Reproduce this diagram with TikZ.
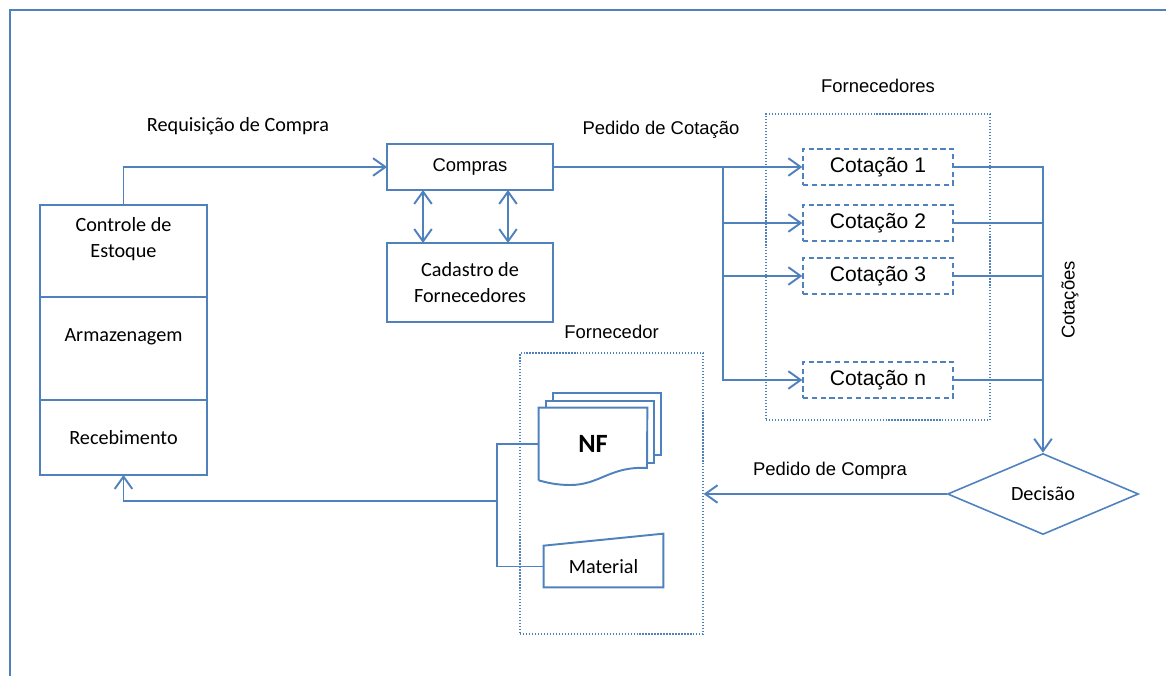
\documentclass[tikz,border=0pt]{standalone}
\usepackage{fontspec}
\setmainfont{Carlito}
\newfontfamily\arialfont{Liberation Sans}
\usetikzlibrary{positioning}
\usetikzlibrary{shapes.geometric}
\usetikzlibrary{arrows.meta}
\definecolor{lineblue}{RGB}{79,129,189}

\begin{document}
\begin{tikzpicture}[
  x=0.02cm, y=-0.02cm,
  >={Straight Barb[length=7pt,width=10pt]},
  flow/.style={draw=lineblue,line width=1.1pt},
  calib/.style={font=\fontsize{11.5}{14.5}\selectfont},
  arial/.style={font=\arialfont\fontsize{10.5}{13}\selectfont},
  block/.style={draw=lineblue,line width=1.1pt,rectangle,align=center,calib,
    minimum width=3.34cm,inner sep=0pt,outer sep=0pt},
  quote/.style={draw=lineblue,line width=0.8pt,densely dashed,rectangle,
    minimum width=3cm,minimum height=0.72cm,font=\arialfont\fontsize{12}{14}\selectfont},
  frame/.style={draw=lineblue,line width=0.7pt,densely dotted,rectangle}
]
\useasboundingbox (0,0) rectangle (1166,676);
\draw[flow] (10,676) -- (10,10) -- (1166,10);

% estoque
\node[block,minimum height=1.84cm,text depth=0.55cm] (ctrl) at (123.5,251) {Controle de\\Estoque};
\node[block,minimum height=2.06cm,text depth=0.55cm,below=0pt of ctrl] (armaz) {Armazenagem};
\node[block,minimum height=1.5cm,below=0pt of armaz] (receb) {Recebimento};

% compras
\node[block,minimum width=3.32cm,minimum height=0.92cm,arial] (compras) at (470,167) {Compras};
\node[block,minimum width=3.32cm,minimum height=1.58cm,below=1.06cm of compras] (cadastro) {Cadastro de\\Fornecedores};

% cotacoes
\node[frame,minimum width=4.48cm,minimum height=6.12cm,
  label={[arial,label distance=0.3cm]above:Fornecedores}] (fornecedores) at (878,267) {};
\node[quote] (cot1) at (878,167) {Cotação 1};
\node[quote] (cot2) at (878,223) {Cotação 2};
\node[quote] (cot3) at (878,276) {Cotação 3};
\node[quote] (cotn) at (878,380) {Cotação n};
\coordinate (split) at (723,167);

\node[diamond,draw=lineblue,line width=0.9pt,shape aspect=2.36,inner sep=0pt,
  minimum width=3.82cm,minimum height=1.62cm,calib] (decisao) at (1043,494) {Decisão};

% fornecedor
\node[frame,minimum width=3.66cm,minimum height=5.62cm,
  label={[arial,label distance=0.15cm]above:Fornecedor}] (fornecedor) at (611.5,493.5) {};
\node[minimum width=2.16cm,minimum height=1.44cm,inner sep=0pt,
  font=\fontsize{15}{18}\selectfont\bfseries] (nf) at (593,444) {NF};
\node[minimum width=2.38cm,minimum height=0.82cm,inner sep=0pt,calib] (material) at (603.5,566.5) {Material};
\coordinate (join) at (497,501);

\draw[flow] (553,401) -- (553,393) -- (661,393) -- (661,455) -- (654,455);
\draw[flow] (546,408) -- (546,401) -- (654,401) -- (654,463) -- (647,463);
\draw[flow] (nf.south west) -- (nf.north west) -- (nf.north east) -- (647,468)
  .. controls (610,466) and (600,485) .. (570,485)
  .. controls (555,485) and (545,482) .. (nf.south west);
\draw[flow] (material.south west) -- (material.north west)
  -- ([yshift=0.24cm]material.north east) -- (material.south east) -- cycle;

% labels
\node[calib] (lblreq) at (238,126) {Requisição de Compra};
\node[arial] (lblcot) at (661,130) {Pedido de Cotação};
\node[arial] (lblped) at (830,471) {Pedido de Compra};
\node[arial,rotate=90] (lblcots) at (1070,300) {Cotações};

% conectores
\draw[flow,->] (ctrl.north) |- (compras.west);
\draw[flow,<->] ([xshift=-0.94cm]compras.south) -- ([xshift=-0.94cm]cadastro.north);
\draw[flow,<->] ([xshift=0.76cm]compras.south) -- ([xshift=0.76cm]cadastro.north);
\draw[flow,->] (compras.east) -- (cot1.west);
\draw[flow,->] (split) |- (cot2.west);
\draw[flow,->] (split) |- (cot3.west);
\draw[flow,->] (split) |- (cotn.west);
\draw[flow,->] (cot1.east) -| (decisao.north);
\draw[flow] (cot2.east) -- (cot2.east -| decisao.north);
\draw[flow] (cot3.east) -- (cot3.east -| decisao.north);
\draw[flow] (cotn.east) -- (cotn.east -| decisao.north);
\draw[flow,->] (decisao.west) -- (decisao.west -| fornecedor.east);
\draw[flow] (nf.west) -| (join);
\draw[flow] (material.west) -| (join);
\draw[flow,->] (join) -| (receb.south);

\end{tikzpicture}
\end{document}
